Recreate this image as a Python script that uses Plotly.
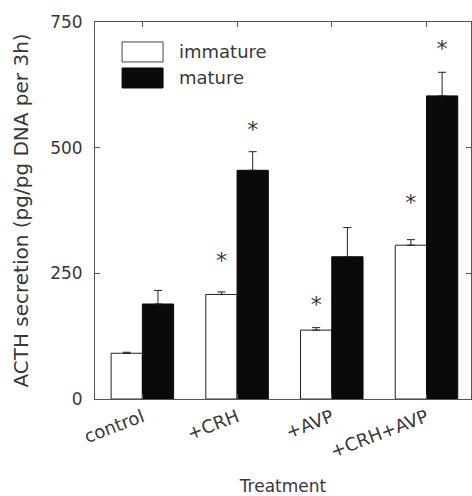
import plotly.graph_objects as go

categories = ["control", "+CRH", "+AVP", "+CRH+AVP"]
immature = [91, 208, 137, 306]
immature_err = [2, 5, 5, 11]
mature = [189, 455, 283, 603]
mature_err = [27, 37, 58, 47]
series_names = ["immature", "mature"]
# significance asterisks: (category, series index, y position)
star_cat = ["+CRH", "+CRH", "+AVP", "+CRH+AVP", "+CRH+AVP"]
star_series = [0, 1, 0, 0, 1]
star_y = [272, 532, 184, 386, 694]
y_ticks = [0, 250, 500, 750]
y_title = "ACTH secretion (pg/pg DNA per 3h)"
x_title = "Treatment"

FONT = "DejaVu Sans"
TXT = "#383838"

fig = go.Figure()
fig.add_trace(go.Bar(
    x=categories, y=immature, name=series_names[0],
    marker=dict(color="white", line=dict(color="#222222", width=1)),
    error_y=dict(type="data", array=immature_err, arrayminus=[0] * 4,
                 symmetric=False, color="#222222", thickness=1, width=4),
    offsetgroup="a", showlegend=False,
))
fig.add_trace(go.Bar(
    x=categories, y=mature, name=series_names[1],
    marker=dict(color="#0a0a0a", line=dict(color="#0a0a0a", width=1)),
    error_y=dict(type="data", array=mature_err, arrayminus=[0] * 4,
                 symmetric=False, color="#222222", thickness=1, width=4),
    offsetgroup="b", showlegend=False,
))

# asterisks positioned above the bars of each series
idx = {c: i for i, c in enumerate(categories)}
bw = 0.33
star_x = [idx[c] + (-bw / 2 if s == 0 else bw / 2) for c, s in zip(star_cat, star_series)]
fig.add_trace(go.Scatter(
    x=star_x, y=star_y, mode="text", text=["*"] * len(star_y),
    textfont=dict(family=FONT, size=22, color=TXT),
    xaxis="x2", showlegend=False, hoverinfo="skip",
))

# legend boxes drawn as shapes
fig.add_shape(type="rect", xref="paper", yref="paper", x0=0.072, x1=0.181,
              y0=0.894, y1=0.947, line=dict(color="#444", width=1), fillcolor="white")
fig.add_shape(type="rect", xref="paper", yref="paper", x0=0.072, x1=0.181,
              y0=0.825, y1=0.878, line=dict(color="#0a0a0a", width=1), fillcolor="#0a0a0a")
fig.add_annotation(xref="paper", yref="paper", x=0.218, y=0.921, text=series_names[0],
                   showarrow=False, xanchor="left", yanchor="middle",
                   font=dict(family=FONT, size=18, color=TXT))
fig.add_annotation(xref="paper", yref="paper", x=0.218, y=0.852, text=series_names[1],
                   showarrow=False, xanchor="left", yanchor="middle",
                   font=dict(family=FONT, size=18, color=TXT))

fig.update_layout(
    width=472, height=496,
    margin=dict(l=95, r=1, t=22, b=97),
    paper_bgcolor="white", plot_bgcolor="white",
    barmode="group", bargap=0.34, bargroupgap=0,
    font=dict(family=FONT, color=TXT),
    xaxis=dict(
        range=[-0.5, 3.47], showline=True, linecolor="#555", linewidth=1,
        mirror="ticks", ticks="inside", ticklen=5, tickcolor="#555",
        tickangle=-21, tickfont=dict(size=18, color=TXT), automargin=False,
        title=dict(text=x_title, font=dict(size=17, color=TXT), standoff=40),
        showgrid=False, zeroline=False,
    ),
    xaxis2=dict(range=[-0.5, 3.47], overlaying="x", visible=False),
    yaxis=dict(
        range=[0, 750], tickvals=y_ticks, showline=True, linecolor="#555",
        linewidth=1, mirror="ticks", ticks="inside", ticklen=5, tickcolor="#555",
        tickfont=dict(size=17, color=TXT), ticklabelstandoff=8, automargin=False,
        title=dict(text=y_title, font=dict(size=20, color=TXT), standoff=16),
        showgrid=False, zeroline=False,
    ),
)

fig.write_html("out.html")
